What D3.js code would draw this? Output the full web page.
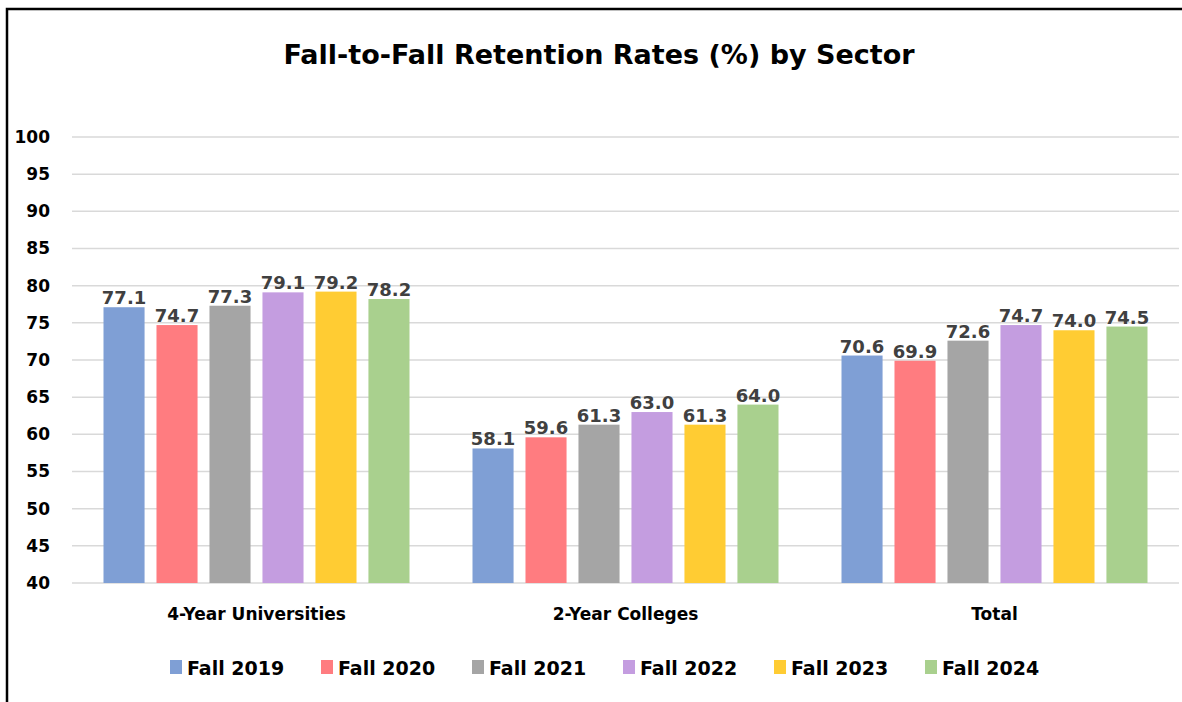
<!DOCTYPE html>
<html>
<head>
<meta charset="utf-8">
<script src="https://cdn.jsdelivr.net/npm/d3@7"></script>
<style>
  body { margin: 0; background: #fff; }
  svg text { font-family: "DejaVu Sans", sans-serif; font-weight: bold; }
</style>
</head>
<body>
<div class="canvas"></div>
<script>
const sectors = ['4-Year Universities', '2-Year Colleges', 'Total']
const years = ['Fall 2019', 'Fall 2020', 'Fall 2021', 'Fall 2022', 'Fall 2023', 'Fall 2024']
const fall2019 = [77.1, 58.1, 70.6]
const fall2020 = [74.7, 59.6, 69.9]
const fall2021 = [77.3, 61.3, 72.6]
const fall2022 = [79.1, 63.0, 74.7]
const fall2023 = [79.2, 61.3, 74.0]
const fall2024 = [78.2, 64.0, 74.5]
const yTicks = [40, 45, 50, 55, 60, 65, 70, 75, 80, 85, 90, 95, 100]

const seriesValues = [fall2019, fall2020, fall2021, fall2022, fall2023, fall2024]
const colors = d3.scaleOrdinal()
    .domain(years)
    .range(['#7f9fd5', '#ff7c80', '#a5a5a5', '#c49de0', '#ffcc33', '#a9d08e'])

const dims = { width: 1182, height: 702 }
const plot = { left: 72, right: 1179, top: 137, bottom: 583 }

const svg = d3.select('.canvas')
    .append('svg')
    .attr('width', dims.width)
    .attr('height', dims.height)

// outer frame (left and top edges visible)
svg.append('path')
    .attr('d', `M7,${dims.height} L7,9 L${dims.width},9`)
    .attr('fill', 'none')
    .attr('stroke', '#000')
    .attr('stroke-width', 2.5)

svg.append('text')
    .attr('x', 599)
    .attr('y', 64)
    .attr('text-anchor', 'middle')
    .attr('font-size', 27)
    .attr('fill', '#000')
    .text('Fall-to-Fall Retention Rates (%) by Sector')

const y = d3.scaleLinear()
    .domain([40, 100])
    .range([plot.bottom, plot.top])

const x0 = d3.scaleBand()
    .domain(sectors)
    .range([plot.left, plot.right])

const x1 = d3.scaleBand()
    .domain(years)
    .range([0, 306])
    .paddingInner(0.225)

// gridlines
svg.append('g')
    .selectAll('line')
    .data(yTicks)
    .enter()
    .append('line')
        .attr('x1', plot.left)
        .attr('x2', plot.right)
        .attr('y1', d => y(d))
        .attr('y2', d => y(d))
        .attr('stroke', '#d9d9d9')
        .attr('stroke-width', 1.5)

// y axis labels
const yAxis = d3.axisLeft(y).tickValues(yTicks).tickSize(0).tickPadding(0)
svg.append('g')
    .attr('transform', 'translate(50,0)')
    .call(yAxis)
    .call(g => g.select('.domain').remove())
    .call(g => g.selectAll('text')
        .attr('font-size', 17)
        .attr('font-family', '"DejaVu Sans", sans-serif')
        .attr('fill', '#000'))

// bars
const groups = svg.append('g')
    .selectAll('g')
    .data(sectors)
    .enter()
    .append('g')
        .attr('transform', d => `translate(${x0(d) + (x0.bandwidth() - 306) / 2}, 0)`)

const barData = (s, i) => years.map((yr, j) => ({ year: yr, value: seriesValues[j][i] }))

groups.selectAll('rect')
    .data(barData)
    .enter()
    .append('rect')
        .attr('x', d => x1(d.year))
        .attr('width', x1.bandwidth())
        .attr('y', d => y(d.value))
        .attr('height', d => y(40) - y(d.value))
        .attr('fill', d => colors(d.year))

groups.selectAll('text')
    .data(barData)
    .enter()
    .append('text')
        .attr('x', d => x1(d.year) + x1.bandwidth() / 2)
        .attr('y', d => y(d.value) - 3)
        .attr('text-anchor', 'middle')
        .attr('font-size', 18)
        .attr('fill', '#404040')
        .text(d => d.value.toFixed(1))

// category labels
const xAxis = d3.axisBottom(x0).tickSize(0).tickPadding(0)
svg.append('g')
    .attr('transform', `translate(0, 608)`)
    .call(xAxis)
    .call(g => g.select('.domain').remove())
    .call(g => g.selectAll('text')
        .attr('font-size', 17)
        .attr('font-family', '"DejaVu Sans", sans-serif')
        .attr('fill', '#000'))

// legend
const legendX = d3.scalePoint()
    .domain(years)
    .range([170, 925])

const legend = svg.append('g')
    .selectAll('g')
    .data(years)
    .enter()
    .append('g')
        .attr('transform', d => `translate(${legendX(d)}, 0)`)

legend.append('rect')
    .attr('y', 660)
    .attr('width', 12)
    .attr('height', 14)
    .attr('fill', d => colors(d))

legend.append('text')
    .attr('x', 17)
    .attr('y', 675)
    .attr('font-size', 19)
    .attr('fill', '#000')
    .text(d => d)
</script>
</body>
</html>
